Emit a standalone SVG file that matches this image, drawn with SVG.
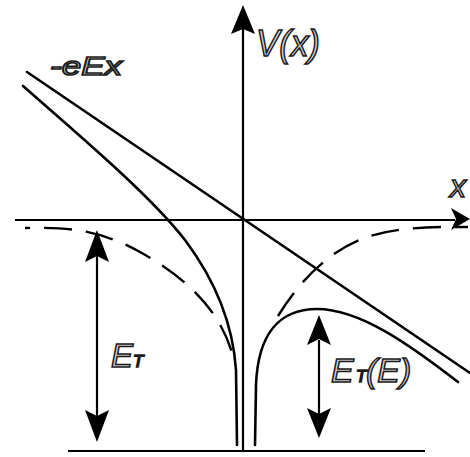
<svg xmlns="http://www.w3.org/2000/svg" width="470" height="457" viewBox="0 0 470 457">
<style>
.ax{stroke:#000;stroke-width:2.2;fill:none}
.cv{stroke:#000;stroke-width:2.6;fill:none;stroke-linecap:round}
.ds{stroke:#000;stroke-width:2.4;fill:none;stroke-dasharray:28 14}
.hd{fill:#000}
.lb{font-family:"Liberation Sans",Arial,sans-serif;font-style:italic;fill:#d4d4d4;stroke:#1a1a1a;stroke-width:1.5}
</style>
<rect width="470" height="457" fill="#fff"/>
<g id="axes">
<line class="ax" x1="243" y1="451" x2="243" y2="28"/>
<polygon class="hd" points="243,5 255,34 243,29 231,34"/>
<line class="ax" x1="15" y1="220" x2="455" y2="220"/>
<polygon class="hd" points="470,219 451,208 456,219 451,230"/>
<line class="ax" x1="68" y1="451" x2="425" y2="451"/>
</g>
<g id="connectors">
<line class="cv" x1="27" y1="72" x2="470" y2="373"/>
<path class="cv" d="M23,86 C80,136 150,195 185,240 C215,280 233,325 236,370 L237,445"/>
<path class="cv" d="M255,445 L256,385 C258,333 280,309 317,309 C360,309 410,345 458,382"/>
<path class="ds" style="stroke-dashoffset:23" d="M25,228 C70,227 100,230 140,252 C185,277 222,310 234,360"/>
<path class="ds" d="M278,316 C300,280 330,250 367,237 C400,226 440,227 468,227"/>
</g>
<g id="arrow-ET">
<line class="ax" x1="97" y1="255" x2="97" y2="418"/>
<polygon class="hd" points="97,230 109,262 97,256 85,262"/>
<polygon class="hd" points="97,442 109,410 97,416 85,410"/>
</g>
<g id="arrow-ETE">
<line class="ax" x1="319" y1="340" x2="319" y2="414"/>
<polygon class="hd" points="319,315 331,345 319,339 307,345"/>
<polygon class="hd" points="319,438 331,408 319,414 307,408"/>
</g>
<g id="labels">
<text class="lb" x="50" y="75" font-size="25" textLength="72" lengthAdjust="spacingAndGlyphs">-eEx</text>
<text class="lb" x="256" y="56" font-size="36" textLength="64" lengthAdjust="spacingAndGlyphs">V(x)</text>
<text class="lb" x="450" y="197" font-size="32">x</text>
<text class="lb" x="111" y="367" font-size="33">E<tspan font-size="17">T</tspan></text>
<text class="lb" x="331" y="382" font-size="34">E<tspan x="356" font-size="17">T</tspan><tspan x="366">(E)</tspan></text>
</g>
</svg>
